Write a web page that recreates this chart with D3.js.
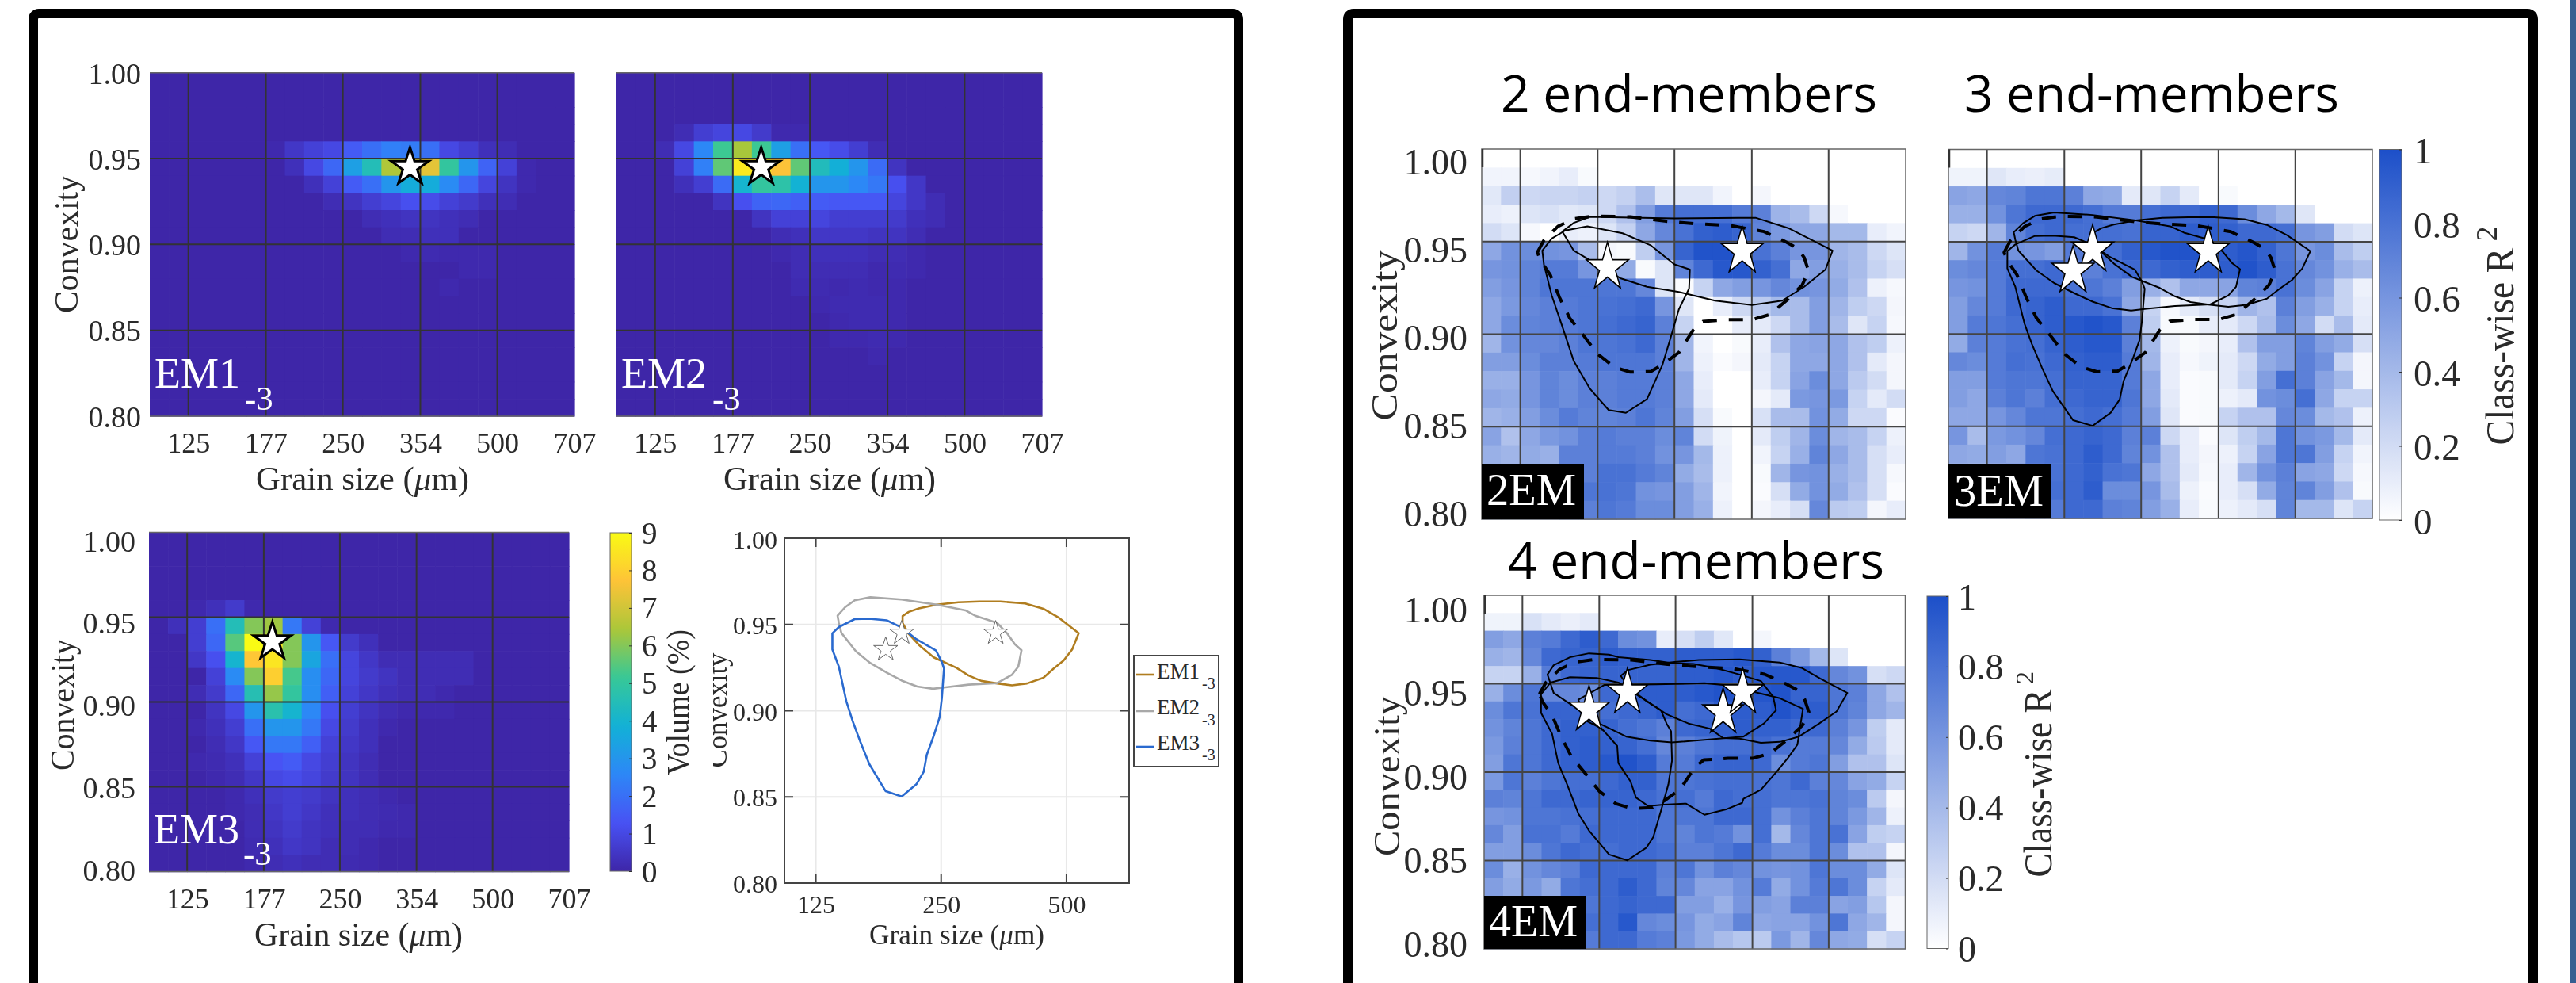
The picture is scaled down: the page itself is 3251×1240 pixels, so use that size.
<!DOCTYPE html>
<html><head><meta charset="utf-8">
<script src="https://cdn.jsdelivr.net/npm/d3@7"></script>
<style>html,body{margin:0;padding:0;background:#fff}svg{display:block;filter:blur(0.7px)}text{font-family:"Liberation Serif",serif;fill:#2a2a2a}</style>
</head><body><svg id="c" width="3251" height="1240"></svg>
<script>
// ---------- tick labels ----------
const xTicks=[125,177,250,354,500,707];
const xGrid=[125,177,250,354,500];
const yTicks=[1,.95,.9,.85,.8];
const yGrid=[.95,.9,.85];
const volTicks=[0,1,2,3,4,5,6,7,8,9];
const r2Ticks=[0,.2,.4,.6,.8,1];
// ---------- volume heat maps: [row, first column, values] ----------
const em1Rows=[
[4,6,[.1,.5,.8,1,1.5,2,2.4,2.3,2,1,.7,.3,.2]],
[5,7,[.3,1,1.8,3.3,4.5,6.5,7,7.3,5,3,1.7,.8,.1]],
[6,8,[.3,.8,1.5,2,3,3.7,3.7,2.7,1.8,.9,.4,.1]],
[7,9,[.2,.4,.7,.9,1.2,1.1,.8,.6,.3,.2]],
[8,11,[.2,.3,.4,.4,.3,.2]],
[9,12,[.2,.2,.3,.3]],
[10,13,[.1,.15,.1,.1,.1]],
[11,16,[.1,.1]],
[12,15,[.1]]];
const em2Rows=[
[3,3,[.2,.7,.9,1,.6,.1,.1]],
[4,2,[.2,1,2.6,5.2,6.4,5.2,3.3,2,1.4,1.1,.7,.2]],
[5,3,[.8,2.4,5.6,8.6,8.5,7.7,5.6,4.4,3.8,3,1.9,.4]],
[6,3,[.3,.7,1.9,4,5,4.8,3.9,3,3,2.6,2.2,1.2,.5]],
[7,5,[.4,1.2,1.7,1.8,1.6,1.5,1.4,1.4,1.4,.9,.5,.2]],
[8,7,[.4,.8,.8,.9,.7,.7,.7,.6,.3,.2]],
[9,8,[.2,.3,.5,.5,.5,.4,.4,.2]],
[10,8,[.1,.2,.3,.3,.3,.2,.2,.1]],
[11,9,[.2,.2,.2,.2,.1,.15,.1]],
[12,9,[.15,.15,.1,.15,.1,.1]],
[13,10,[.1,.15,.15,.15,.1]],
[14,11,[.1,.15,.15,.1]],
[15,11,[.1,.1,.15,.1]],
[16,13,[.1]]];
const em3Rows=[
[4,2,[.1,.3,.6,.1]],
[5,1,[.3,.7,2,4.5,6,6.3,2.2,.8,.1]],
[6,2,[.7,1.8,5.5,9,8.5,6,3,1.4,.6,.3]],
[7,2,[.5,1.2,4,7.8,8.5,6,3.5,2,.9,.5,.2,.2,.2,.2,.2]],
[8,3,[.8,2.7,6,8,5.3,2.8,1.8,.9,.6,.4,.2,.2,.2,.2]],
[9,2,[.2,.6,1.8,4.6,6.2,5,2.8,1.6,.8,.5,.3,.2,.2,.1]],
[10,3,[.4,1,3,4.7,4,2.6,1.2,.7,.4,.2,.1,.1,.1]],
[11,2,[.1,.3,.7,2,3,3,2.2,1,.6,.3,.1]],
[12,3,[.2,.5,1.4,2.2,2.2,1.6,.8,.5,.3]],
[13,2,[.1,.15,.3,.8,1.3,1.5,1,.7,.4,.2]],
[14,3,[.1,.2,.5,1,1.1,.9,.6,.4,.2]],
[15,4,[.1,.3,.6,.7,.6,.4,.3,.2,.1]],
[16,4,[.1,.2,.5,.7,.5,.3,.3,.2,.15,.1]],
[17,5,[.2,.4,.6,.4,.3,.2,.2,.1,.1]],
[18,5,[.15,.3,.5,.4,.2,.2,.1]],
[19,5,[.1,.2,.3,.2,.2,.15,.1]]];
// ---------- class-wise R2 (percent) ----------
const r2Em2=[
[0,0,0,0,0,0,0,0,0,0,0,0,0,0,0,0,0,0,0,0,0,0],
[6,6,4,6,10,3,0,0,0,0,0,0,0,0,0,0,0,0,0,0,0,0],
[13,27,22,24,24,26,22,26,37,14,14,14,6,0,5,0,0,0,0,0,0,0],
[10,8,15,17,13,15,22,35,55,75,82,82,82,75,72,43,38,22,4,0,0,0],
[20,15,4,0,10,8,15,26,50,68,80,90,92,88,70,58,50,50,40,40,10,6],
[50,62,65,62,60,38,5,3,28,60,88,98,98,90,80,72,60,60,42,38,22,15],
[60,62,70,75,75,60,50,48,3,15,70,85,95,95,90,82,50,55,45,38,25,18],
[55,60,70,78,78,78,78,78,68,15,2,25,50,55,60,68,62,60,48,35,8,4],
[50,58,68,72,75,78,80,82,85,60,14,0,10,22,30,40,38,55,42,28,22,5],
[50,65,70,72,75,78,82,85,88,72,25,0,0,10,12,22,38,55,38,14,25,4],
[42,62,68,68,72,78,78,80,85,72,42,6,0,3,10,35,50,52,50,35,28,8],
[55,55,65,72,72,75,78,78,78,72,42,8,2,5,12,25,50,50,50,35,12,5],
[45,45,60,70,65,72,72,75,75,72,50,10,0,0,10,25,52,65,50,30,20,5],
[50,48,60,70,65,72,72,75,75,72,50,12,0,0,5,12,58,60,58,25,12,20],
[42,45,55,65,75,70,70,72,78,70,55,18,3,0,17,38,38,62,48,22,22,2],
[52,35,50,58,62,72,75,72,72,65,70,20,7,0,12,28,42,65,42,38,25,8],
[45,42,48,45,72,72,75,75,72,62,60,40,8,0,6,25,45,70,50,38,18,10],
[45,42,48,50,72,72,80,80,75,70,48,38,8,0,3,42,60,62,45,38,18,4],
[42,40,46,50,72,78,80,78,62,60,55,42,6,0,2,18,48,62,48,35,18,2],
[40,40,46,50,72,72,78,75,65,65,55,45,8,0,5,10,18,68,30,28,5,10]];
const r2Em3=[
[0,0,0,0,0,0,0,0,0,0,0,0,0,0,0,0,0,0,0,0,0,0],
[7,7,14,10,9,11,0,0,0,0,0,0,0,0,0,0,0,0,0,0,0,0],
[52,50,68,70,78,78,72,50,48,12,14,25,12,0,3,0,0,0,0,0,0,0],
[45,45,62,78,85,85,85,82,75,75,82,85,85,90,85,65,50,40,14,0,0,0],
[25,22,42,70,82,85,82,82,82,80,88,88,92,92,90,85,85,82,60,55,20,15],
[42,62,75,62,60,55,75,78,82,90,95,98,98,98,92,96,90,78,60,65,38,28],
[65,68,75,82,82,85,75,72,80,85,85,90,92,92,92,98,92,80,68,62,45,38],
[60,62,75,85,85,85,80,78,72,55,45,35,50,50,52,70,72,80,65,52,25,8],
[55,68,75,85,88,92,85,85,80,50,25,4,12,18,25,42,35,72,55,45,25,10],
[55,75,78,82,88,92,95,98,95,72,28,3,3,10,12,22,38,65,50,20,38,12],
[48,72,75,80,82,88,92,95,95,72,40,8,3,5,10,35,55,55,70,55,48,18],
[68,65,75,82,80,85,90,92,92,75,42,10,4,7,12,22,48,55,72,62,25,5],
[55,55,75,78,78,82,88,88,88,75,50,10,2,3,12,25,55,82,72,52,40,5],
[55,50,72,78,72,82,85,88,88,78,50,12,2,3,8,12,62,65,82,50,25,25],
[50,50,60,68,78,78,82,85,82,75,55,14,2,3,25,35,35,68,65,40,35,8],
[60,38,58,62,68,82,85,88,85,72,72,22,10,2,15,28,40,78,62,58,40,12],
[50,48,55,50,78,80,85,92,85,70,62,35,10,5,8,25,52,78,78,55,25,6],
[48,46,52,55,78,80,85,90,80,78,50,35,12,4,10,42,62,72,52,50,22,4],
[46,45,52,55,78,82,85,92,65,65,60,38,8,2,10,18,48,70,70,55,35,3],
[45,45,50,55,78,75,85,85,72,70,55,45,10,3,8,12,18,70,40,40,15,25]];
const r2Em4=[
[0,0,0,0,0,0,0,0,0,0,0,0,0,0,0,0,0,0,0,0,0,0],
[7,7,17,12,9,12,0,0,0,0,0,0,0,0,0,0,0,0,0,0,0,0],
[55,50,72,75,85,92,85,65,62,10,18,28,13,0,5,0,0,0,0,0,0,0],
[45,42,68,85,88,88,92,90,90,90,92,92,92,95,90,72,58,40,15,0,0,0],
[25,25,45,75,85,88,88,88,88,88,92,92,95,92,95,95,95,85,68,62,18,22],
[45,65,78,68,68,65,85,85,92,92,92,95,98,96,96,98,88,88,78,72,50,35],
[65,78,80,88,88,88,82,85,88,92,82,85,92,92,92,98,92,92,78,70,50,42],
[62,70,78,85,90,90,88,82,78,72,85,88,90,92,90,90,85,85,72,60,28,12],
[58,72,78,85,90,92,90,88,82,68,72,78,82,82,85,80,75,75,68,48,30,12],
[55,78,78,85,90,92,95,98,92,75,75,85,88,88,85,65,75,78,55,35,35,15],
[58,78,72,78,82,82,85,90,90,78,78,80,82,82,80,78,85,72,68,52,48,25],
[72,70,78,85,85,88,88,88,85,80,82,75,85,82,82,78,78,80,70,65,30,5],
[60,62,78,78,80,82,85,85,85,78,78,78,85,85,82,62,72,78,70,58,42,8],
[68,55,80,80,75,85,85,85,85,78,70,78,75,62,82,40,68,78,80,52,28,25],
[55,55,65,78,85,82,82,85,85,82,72,72,78,85,75,65,65,78,65,35,35,5],
[65,45,62,68,72,85,85,85,85,72,78,62,72,68,62,60,62,78,65,65,48,15],
[55,48,58,48,78,82,85,92,85,70,68,52,52,62,75,48,62,75,78,65,25,12],
[50,48,55,55,78,78,85,88,85,85,55,55,45,60,55,52,72,72,52,55,32,5],
[48,46,52,55,78,82,85,95,68,65,60,48,52,70,50,52,52,62,78,50,42,5],
[45,45,50,55,78,75,85,85,75,72,58,48,38,32,30,58,42,68,50,48,18,25]];
// ---------- end-member contours (grain size um, convexity) ----------
const em1Gs=[202,209,221,244,275,309,347,398,440,480,535,516,492,466,440,402,370,341,312,291,272,256,240,221,209,202];
const em1Cv=[.9549,.9573,.9593,.9615,.9629,.9633,.9633,.9622,.9591,.9538,.9449,.9355,.9291,.9245,.9191,.9158,.9147,.9158,.9173,.9204,.9249,.9278,.9309,.9382,.9445,.9509];
const em2Gs=[141,147,155,169,201,244,286,303,341,361,376,390,383,370,341,291,256,239,219,201,186,169,156,144,142];
const em2Cv=[.9551,.96,.964,.9658,.9645,.9615,.9582,.9549,.9509,.9445,.9385,.9351,.9255,.9209,.916,.9151,.9136,.9127,.914,.9175,.9218,.9276,.9345,.9451,.9509];
const em3Gs=[137,137,142,148,153,160,168,184,201,218,227,231,240,248,251,254,251,243,217,201,185,168,155,142];
const em3Cv=[.9449,.9355,.9255,.9055,.8945,.8818,.8691,.8533,.8502,.8573,.8645,.8745,.8855,.8964,.9073,.9245,.9282,.9349,.9418,.9482,.9524,.9533,.9531,.9485];
const dashGs=[135,139,148,159,174,205,241,274,323,374,413,436,448,457,444,417,384,354,317,284,272,264,255,237,225,205,191,177,166,156,149,143,137];
const dashCv=[.9442,.9507,.9582,.9623,.9638,.9634,.961,.9597,.9586,.9554,.9498,.9461,.9414,.934,.9265,.919,.9106,.9078,.9078,.9069,.9022,.8966,.8901,.8836,.8799,.8795,.8821,.8892,.8994,.9088,.92,.9321,.9396];
const two1Gs=[151,159,171,250,360,417,509,493,448,406,354,300,255,221,196,159];
const two1Cv=[.9554,.9601,.9634,.9625,.9629,.9573,.9451,.9349,.9256,.9181,.9157,.9181,.9228,.9256,.9302,.9451];
const two2Gs=[138,144,153,169,198,225,250,268,267,255,246,237,221,201,186,171,159,151,144,139];
const two2Cv=[.9451,.9517,.956,.9582,.9545,.9479,.9377,.9349,.9246,.9134,.8985,.8836,.8649,.8575,.859,.8705,.8854,.9041,.9209,.9377];
const four1Gs=[136,142,155,175,193,211,234,240,245,246,242,234,226,219,201,185,169,161,153,147,143,136];
const four1Cv=[.944,.9507,.9537,.9533,.9507,.9433,.935,.9275,.9231,.9066,.8931,.8781,.8632,.8572,.8501,.8534,.8669,.8766,.8931,.9051,.9216,.9335];
const four2Gs=[140,144,155,169,185,193,223,246,271,299,334,368,389,394,373,340,314,246,223,200,177,159,144,142];
const four2Cv=[.9552,.9605,.965,.9672,.9665,.965,.9635,.9617,.9612,.959,.9552,.9515,.9425,.935,.9275,.9201,.9193,.9168,.9178,.9201,.9275,.9365,.9448,.95];
const four3Gs=[195,202,223,249,278,334,401,442,481,544,518,479,437,401,368,334,310,292,265,240,221,207,200];
const four3Cv=[.9545,.9578,.9608,.9623,.9635,.9638,.962,.959,.953,.9448,.9343,.9275,.9201,.9171,.9166,.9189,.9193,.9246,.9275,.9328,.9395,.9455,.95];
const four4Gs=[181,229,285,310,355,401,445,434,416,396,368,340,338,314,285,262,237,221,209,204,193,192,179,167,161];
const four4Cv=[.9493,.9497,.9503,.9493,.9455,.9418,.9358,.9156,.9081,.9006,.8901,.8849,.8826,.8789,.8759,.8822,.8816,.8808,.8856,.8946,.9051,.9148,.9246,.929,.941];
// ---------- stars (grain size um, convexity) ----------
const starsEm1=[[338,.945]], starsEm2=[[201,.945]], starsEm3=[[184,.9355]];
const stars2=[[185,.936],[339,.9448]];
const stars3=[[338,.9448],[201,.9456],[184,.9341]];
const stars4=[[169,.9353],[201,.9451],[310,.9338],[339,.9451]];

const parula=["#3E26A8","#4852F4","#2D87F7","#12B1D6","#37C897","#ABC739","#FEC338","#F9FB14"];
const volColor=d3.scaleLinear().domain(parula.map((_,i)=>i*9/7)).range(parula).clamp(true);
const r2Color=d3.scaleLinear().domain([0,100]).range(["#ffffff","#1c4fc9"]);
const svg=d3.select("#c");
const NC=22,NR=20,xMin=125/Math.pow(2,.25),xMax=707;
const gridCol="#333";

svg.append("rect").attr("x",3243).attr("y",0).attr("width",8).attr("height",1240).attr("fill","#365F91");
[[42,1521],[1701,1496]].forEach(([x,w])=>svg.append("rect").attr("x",x).attr("y",17).attr("width",w).attr("height",1400)
  .attr("rx",7).attr("fill","none").attr("stroke","#000").attr("stroke-width",12));

function scales(p){return{x:d3.scaleLog().base(2).domain([xMin,xMax]).range([p.l,p.r]),
  y:d3.scaleLinear().domain([.8,1]).range([p.b,p.t]),
  bx:d3.scaleBand().domain(d3.range(NC)).range([p.l,p.r]),
  by:d3.scaleBand().domain(d3.range(NR)).range([p.t,p.b])};}
function expand(rows){const g=d3.range(NR).map(()=>d3.range(NC).map(()=>0));
  rows.forEach(([r,c,v])=>v.forEach((d,i)=>g[r][c+i]=d));return g;}
function cells(g,s,m,col){
  g.append("g").selectAll("g").data(m).join("g").each(function(row,r){
    d3.select(this).selectAll("rect").data(row).join("rect")
      .attr("x",(d,c)=>s.bx(c)).attr("y",s.by(r))
      .attr("width",s.bx.bandwidth()+.6).attr("height",s.by.bandwidth()+.6)
      .attr("fill",d=>col(d));});
}
function grid(g,s,p,c,w,xs=xGrid,ys=yGrid){
  g.append("g").selectAll("line").data(xs).join("line").attr("x1",d=>s.x(d)).attr("x2",d=>s.x(d)).attr("y1",p.t).attr("y2",p.b).attr("stroke",c).attr("stroke-width",w);
  g.append("g").selectAll("line").data(ys).join("line").attr("y1",d=>s.y(d)).attr("y2",d=>s.y(d)).attr("x1",p.l).attr("x2",p.r).attr("stroke",c).attr("stroke-width",w);
}
function border(g,p,c="#555",w=2){g.append("rect").attr("x",p.l).attr("y",p.t).attr("width",p.r-p.l).attr("height",p.b-p.t).attr("fill","none").attr("stroke",c).attr("stroke-width",w);}
function xAxis(g,s,p,ticks,fs,off){
  const a=g.append("g").attr("transform",`translate(0,${p.b})`).call(d3.axisBottom(s.x).tickValues(ticks).tickFormat(d3.format("d")).tickSize(0));
  a.select(".domain").remove();
  a.selectAll("text").attr("y",off).attr("dy",0).style("font-size",fs+"px").style("font-family",'"Liberation Serif"').style("fill","#2a2a2a");
}
function yAxis(g,s,p,fs,right,o0,o1){
  const a=g.append("g").attr("transform",`translate(${p.l},0)`).call(d3.axisLeft(s.y).tickValues(yTicks).tickFormat(d3.format(".2f")).tickSize(0));
  a.select(".domain").remove();
  const off=d3.scaleLinear().domain([1,.8]).range([o0,o1]);
  a.selectAll("text").attr("x",right-p.l).attr("dy",0).attr("y",d=>off(d)).attr("text-anchor","end")
    .style("font-size",fs+"px").style("font-family",'"Liberation Serif"').style("fill","#2a2a2a");
}
function vText(g,str,x,yc,fs,len){
  const t=g.append("text").attr("transform",`translate(${x},${yc}) rotate(-90)`).attr("text-anchor","middle").attr("font-size",fs).text(str);
  if(len)t.attr("textLength",len).attr("lengthAdjust","spacingAndGlyphs");return t;}
function grainLabel(g,xL,len,base,fs){
  const t=g.append("text").attr("x",xL).attr("y",base).attr("font-size",fs).attr("textLength",len).attr("lengthAdjust","spacingAndGlyphs");
  t.append("tspan").text("Grain size (");t.append("tspan").attr("font-style","italic").text("\u03BC");t.append("tspan").text("m)");}
function star(g,s,pts,r,fill,stroke,sw,sy=1){
  const sym=d3.symbol().type(d3.symbolStar).size(r*r/0.8908130915292852);
  g.append("g").selectAll("path").data(pts).join("path").attr("d",sym)
    .attr("transform",d=>`translate(${s.x(d[0])},${s.y(d[1])}) scale(1,${sy})`)
    .attr("fill",fill).attr("stroke",stroke).attr("stroke-width",sw).attr("stroke-linejoin","miter");
}
function contour(g,s,gs,cv,stroke,w,dash){
  const line=d3.line().x(d=>s.x(d[0])).y(d=>s.y(d[1])).curve(d3.curveLinearClosed);
  const p=g.append("path").datum(d3.zip(gs,cv)).attr("d",line).attr("fill","none").attr("stroke",stroke).attr("stroke-width",w).attr("stroke-linejoin","round");
  if(dash)p.attr("stroke-dasharray",dash);
}
function emLabel(g,name,x,base,subX,subBase,fs,sfs,col="#fff"){
  g.append("text").attr("x",x).attr("y",base).attr("font-size",fs).style("fill",col).text(name);
  g.append("text").attr("x",subX).attr("y",subBase).attr("font-size",sfs).style("fill",col).text("-3");
}

// ---- volume panels ----
function volPanel(p,rows,stars,o){
  const g=svg.append("g"),s=scales(p);
  cells(g,s,expand(rows),volColor);
  grid(g,s,p,gridCol,2);
  g.append("line").attr("x1",p.l).attr("x2",p.r).attr("y1",p.t).attr("y2",p.t).attr("stroke","#666").attr("stroke-width",1.5);
  g.append("line").attr("x1",p.l).attr("x2",p.r).attr("y1",p.b).attr("y2",p.b).attr("stroke","#666").attr("stroke-width",1.5);
  xAxis(g,s,p,xTicks,36,46);
  if(o.yRight){yAxis(g,s,p,38,o.yRight,o.o0,o.o1);vText(g,"Convexity",o.cvX,o.cvY,42,o.cvL);}
  grainLabel(g,o.gX,o.gL,p.b+93,42);
  emLabel(g,o.name,o.nX,o.nB,o.sX,o.sB,54,43);
  star(g,s,stars,25,"#fff","#000",3);
}
volPanel({l:189,r:725,t:91.7,b:525},em1Rows,starsEm1,{yRight:178,o0:14,o1:13,cvX:98,cvY:308,cvL:174,gX:323,gL:269,name:"EM1",nX:195,nB:489,sX:309,sB:517});
volPanel({l:778,r:1315,t:91.7,b:525},em2Rows,starsEm2,{gX:913,gL:268,name:"EM2",nX:784,nB:489,sX:899,sB:517});
volPanel({l:188,r:718,t:671.4,b:1099.6},em3Rows,starsEm3,{yRight:171,o0:23.6,o1:10.4,cvX:93,cvY:889,cvL:166,gX:321,gL:263,name:"EM3",nX:194,nB:1064,sX:307,sB:1091});

// ---- vertical colour bars ----
function colorBar(x0,x1,t,b,dom,col,ticks,fmt,fs,lx,off,grad,tl=3){
  const id="g"+grad;
  const lg=svg.append("defs").append("linearGradient").attr("id",id).attr("x1",0).attr("x2",0).attr("y1",1).attr("y2",0);
  d3.range(0,1.0001,.02).forEach(f=>lg.append("stop").attr("offset",f).attr("stop-color",col(dom[0]+f*(dom[1]-dom[0]))));
  const y=d3.scaleLinear().domain(dom).range([b,t]);
  const g=svg.append("g");
  g.append("rect").attr("x",x0).attr("y",t).attr("width",x1-x0).attr("height",b-t).attr("fill",`url(#${id})`).attr("stroke","#666").attr("stroke-width",1);
  const a=g.append("g").attr("transform",`translate(${x1},0)`).call(d3.axisLeft(y).tickValues(ticks).tickFormat(fmt).tickSize(tl));
  a.select(".domain").remove();
  a.selectAll("line").attr("stroke","#333");
  a.selectAll("text").attr("x",lx-x1).attr("dy",0).attr("y",off).attr("text-anchor","start")
    .style("font-size",fs+"px").style("font-family",'"Liberation Serif"').style("fill","#2a2a2a");
}
colorBar(770,797,672,1099,[0,9],volColor,volTicks,d3.format("d"),39,810,13,"v");
vText(svg,"Volume (%)",869,886,40,184);

// ---- overlay of contours ----
(function(){
  const p={l:990,r:1425,t:679,b:1114},g=svg.append("g"),s=scales(p);
  grid(g,s,p,"#e8e8e8",2,[125,250,500],yGrid);
  [[125],[250],[500]].forEach(([v])=>{[[p.t,p.t+11],[p.b-11,p.b]].forEach(([a,b])=>g.append("line").attr("x1",s.x(v)).attr("x2",s.x(v)).attr("y1",a).attr("y2",b).attr("stroke","#444").attr("stroke-width",2));});
  yGrid.forEach(v=>{[[p.l,p.l+11],[p.r-11,p.r]].forEach(([a,b])=>g.append("line").attr("y1",s.y(v)).attr("y2",s.y(v)).attr("x1",a).attr("x2",b).attr("stroke","#444").attr("stroke-width",2));});
  contour(g,s,em1Gs,em1Cv,"#B07D1F",2.6);
  contour(g,s,em2Gs,em2Cv,"#A8A8A8",2.6);
  contour(g,s,em3Gs,em3Cv,"#2A6ACF",2.6);
  star(g,s,[starsEm1[0],starsEm2[0],starsEm3[0]],16,"#fff","#666",1);
  border(g,p,"#444",2);
  xAxis(g,s,p,[125,250,500],32,38);
  yAxis(g,s,p,32,981,12,11);
  grainLabel(g,1097,221,1191,36);
  svg.append("clipPath").attr("id","cvClip").append("rect").attr("x",900).attr("y",780).attr("width",40).attr("height",220);
  g.append("g").attr("clip-path","url(#cvClip)").call(h=>vText(h,"Convexity",917,896,36,145));
  // legend
  const lg=svg.append("g");
  lg.append("rect").attr("x",1431).attr("y",827).attr("width",107).attr("height",140).attr("fill","#fff").attr("stroke","#444").attr("stroke-width",2);
  [["EM1","#B07D1F",856,869,851],["EM2","#A8A8A8",901,915,897],["EM3","#2A6ACF",946,959,942]].forEach(([n,c,b,sb,ly])=>{
    lg.append("line").attr("x1",1434).attr("x2",1457).attr("y1",ly).attr("y2",ly).attr("stroke",c).attr("stroke-width",2.6);
    emLabel(lg,n,1460,b,1517,sb,27,20,"#2a2a2a");
  });
})();

// ---- R2 panels ----
function r2Panel(p,m,lines,stars,o){
  const g=svg.append("g"),s=scales(p);
  cells(g,s,m,r2Color);
  grid(g,s,p,"#444",2);
  border(g,p,"#666",1.5);
  g.append("line").attr("x1",p.l+1).attr("x2",p.l+1).attr("y1",p.t).attr("y2",p.t+23).attr("stroke","#333").attr("stroke-width",2.5);
  lines.forEach(([a,b])=>contour(g,s,a,b,"#000",2));
  contour(g,s,dashGs,dashCv,"#000",4,"18,15");
  star(g,s,stars,o.sr,"#fff","#000",1.5,1.14);
  if(o.cvX){yAxis(g,s,p,46,o.yRight,o.o0,o.o1);vText(g,"Convexity",o.cvX,o.cvY,46,o.cvL);}
  g.append("rect").attr("x",p.l).attr("y",o.rt).attr("width",o.rw).attr("height",p.b-o.rt).attr("fill","#000");
  g.append("text").attr("x",o.tx).attr("y",o.tb).attr("font-size",57).attr("textLength",o.tl).attr("lengthAdjust","spacingAndGlyphs").style("fill","#fff").text(o.tag);
  svg.append("text").attr("x",o.hX).attr("y",o.hB).attr("font-size",64).attr("textLength",o.hL).attr("lengthAdjust","spacingAndGlyphs")
    .style("font-family",'"Open Sans"').style("fill","#000").text(o.title);
}
r2Panel({l:1870,r:2405,t:188,b:655},r2Em2,[[two1Gs,two1Cv],[two2Gs,two2Cv]],stars2,{sr:28,yRight:1852,o0:31,o1:8,cvX:1763,cvY:423,cvL:215,rt:585,rw:129,tx:1876,tb:637,tl:113,tag:"2EM",hX:1894,hB:141,hL:475,title:"2 end-members"});
r2Panel({l:2459,r:2994,t:188.5,b:654},r2Em3,[[em1Gs,em1Cv],[em2Gs,em2Cv],[em3Gs,em3Cv]],stars3,{sr:28,rt:585,rw:129,tx:2466,tb:638,tl:113,tag:"3EM",hX:2479,hB:141,hL:473,title:"3 end-members"});
r2Panel({l:1873,r:2404.5,t:751,b:1197},r2Em4,[[four1Gs,four1Cv],[four2Gs,four2Cv],[four3Gs,four3Cv],[four4Gs,four4Cv]],stars4,{sr:27,yRight:1852,o0:33,o1:9,cvX:1766,cvY:979,cvL:202,rt:1130,rw:128,tx:1879,tb:1181,tl:112,tag:"4EM",hX:1903,hB:730,hL:475,title:"4 end-members"});

const r2Fmt=d=>d===0||d===1?String(d):d3.format(".1f")(d);
colorBar(3003,3031,188.5,656,[0,1],d=>r2Color(d*100),r2Ticks,r2Fmt,47,3046,17,"r1");
colorBar(2432,2459,752,1196.5,[0,1],d=>r2Color(d*100),r2Ticks,r2Fmt,46,2471,16,"r2");
vText(svg,"Class-wise R",3172,437,50,249);
vText(svg,"2",3151,295,38);
vText(svg,"Class-wise R",2589,988,50,237);
vText(svg,"2",2566,855,32);
</script></body></html>
